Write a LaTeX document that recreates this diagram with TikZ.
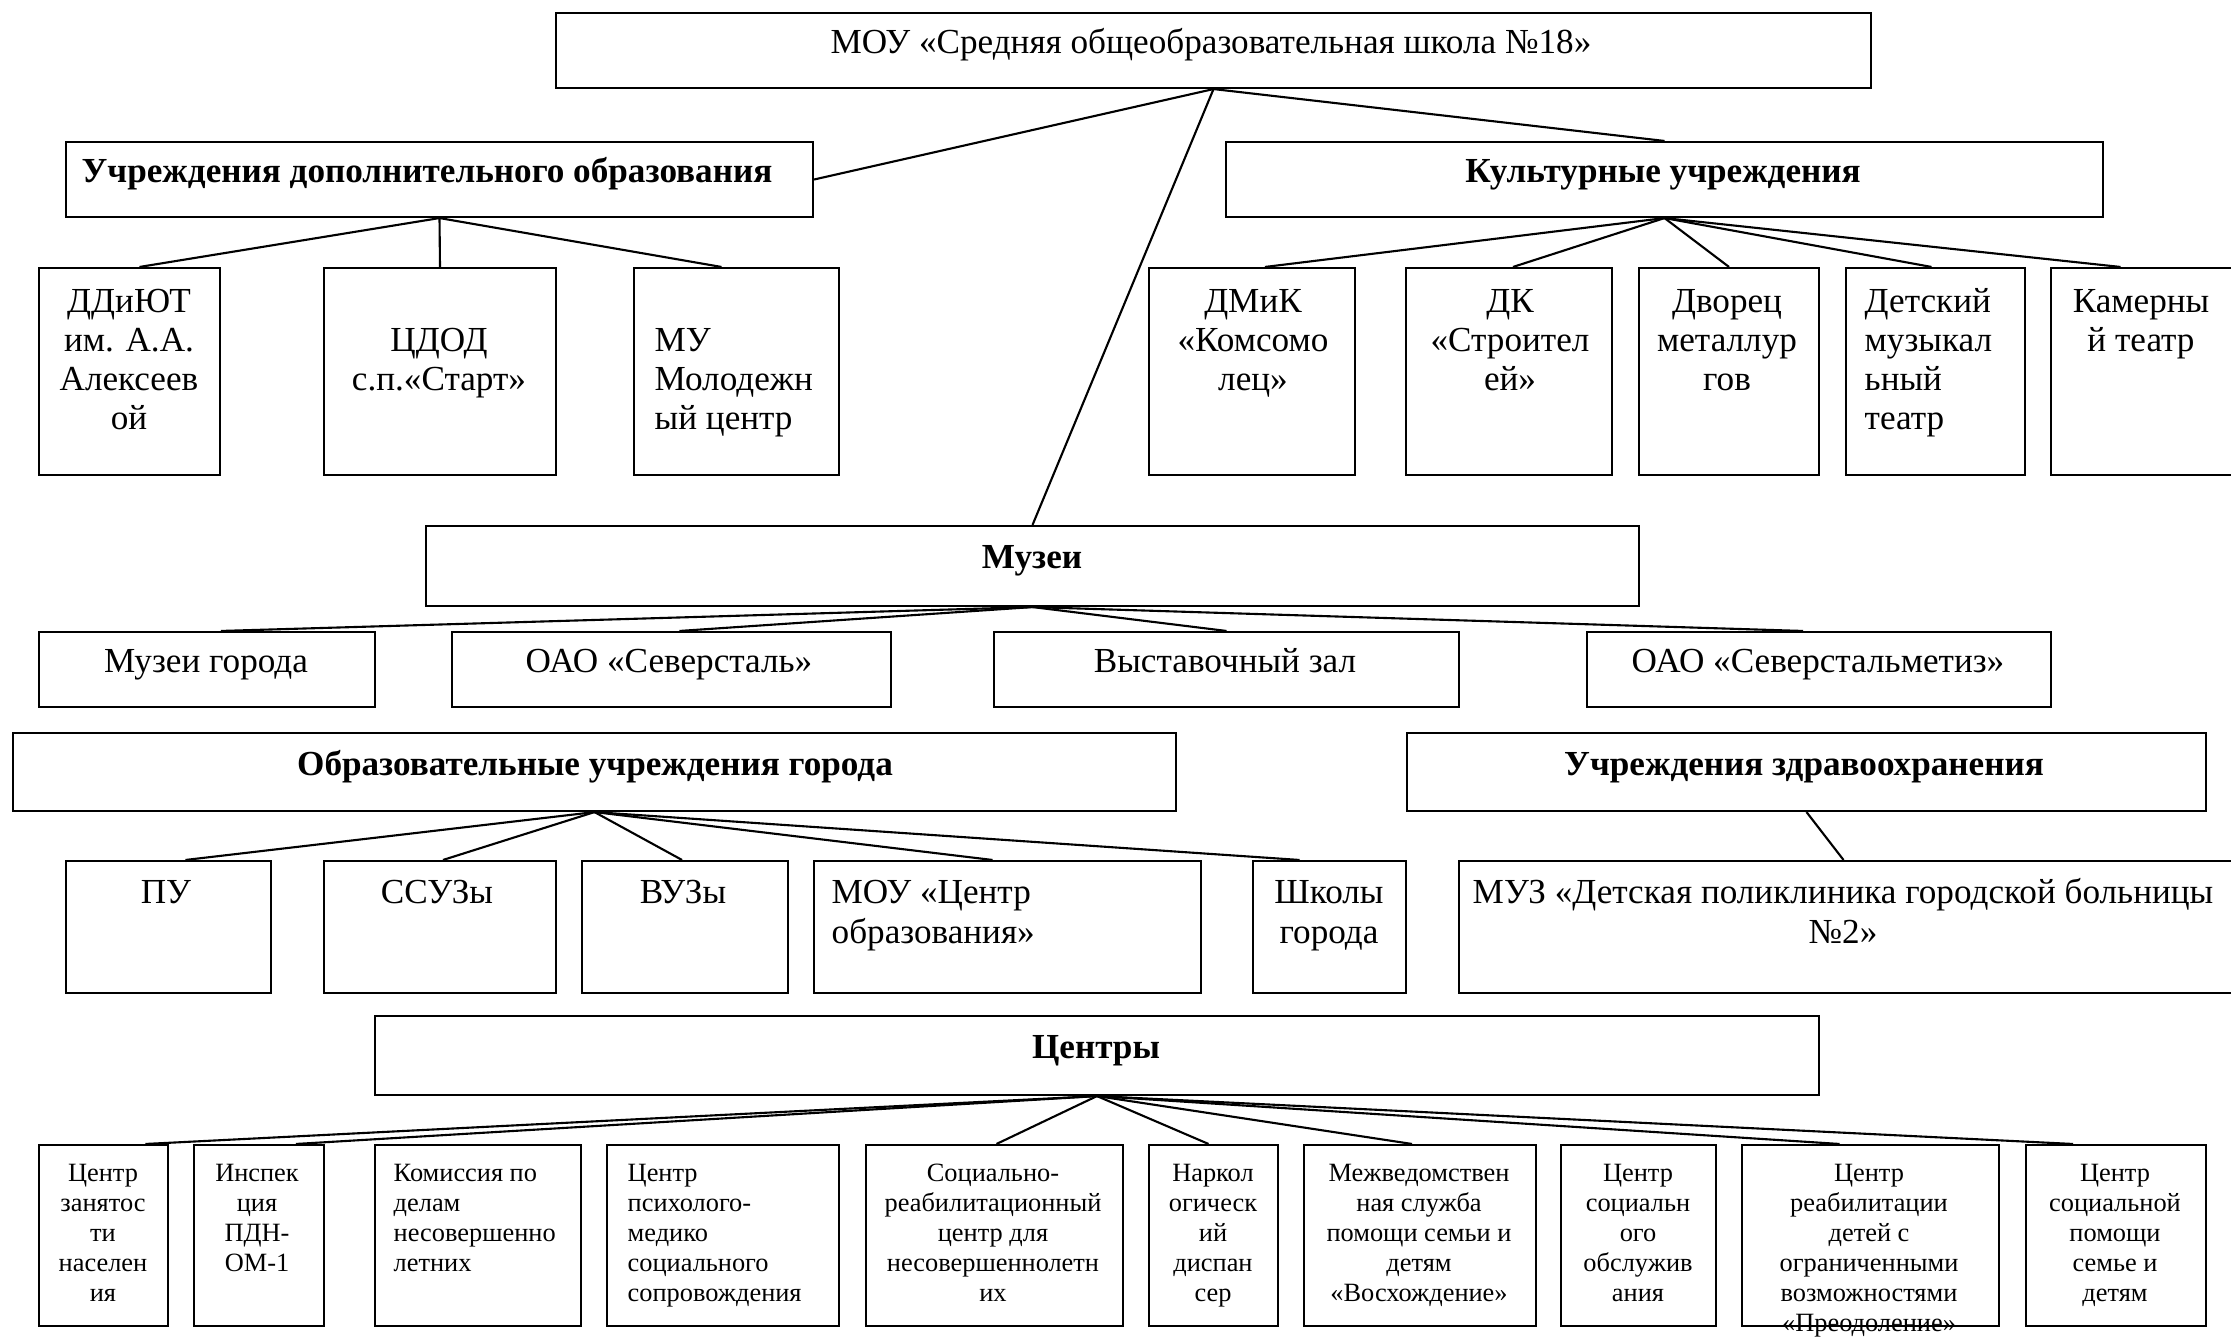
\documentclass[tikz,border=0pt]{standalone}
\usepackage{fontspec}
\setmainfont{Liberation Serif}
\usetikzlibrary{fit,calc}
\newcommand\fmid{\fontsize{10}{11.1}\selectfont}
\newcommand\fmidw{\fontsize{10}{11.4}\selectfont}
\newcommand\fmidb{\fontsize{10}{11.1}\selectfont\bfseries}
\newcommand\fsml{\fontsize{7.5}{8.54}\selectfont}
\newcommand\bx[5]{\node[box, fit={(#2,#3) (#4,#5)}] (#1) {};}
\newcommand\txc[5]{\node[lbl, anchor=base, font=#4] (#1) at (#2,#3) {\begin{tabular}[t]{@{}c@{}}#5\end{tabular}};}
\newcommand\txl[5]{\node[lbl, anchor=base west, font=#4] (#1) at (#2,#3) {\begin{tabular}[t]{@{}l@{}}#5\end{tabular}};}
\begin{document}
\begin{tikzpicture}[x=0.01cm, y=-0.01cm,
  box/.style={draw, line width=0.6pt, inner sep=0pt, rectangle},
  lbl/.style={inner sep=0pt},
  link/.style={line width=0.6pt}]
\useasboundingbox[fill=white] (0,0) rectangle (2231,1339);

% ---------- boxes ----------
\bx{top}{556}{13}{1871}{88}
\bx{udo}{66}{142}{813}{217}
\bx{kult}{1226}{142}{2103}{217}
\bx{ddiut}{39}{268}{220}{475}
\bx{cdod}{324}{268}{556}{475}
\bx{mu}{634}{268}{839}{475}
\bx{dmik}{1149}{268}{1355}{475}
\bx{dk}{1406}{268}{1612}{475}
\bx{dvorec}{1639}{268}{1819}{475}
\bx{detsk}{1846}{268}{2025}{475}
\bx{kamer}{2051}{268}{2240}{475}
\bx{muz}{426}{526}{1639}{606}
\bx{mg}{39}{632}{375}{707}
\bx{sev}{452}{632}{891}{707}
\bx{vyst}{994}{632}{1459}{707}
\bx{metiz}{1587}{632}{2051}{707}
\bx{oug}{13}{733}{1176}{811}
\bx{uz}{1407}{733}{2206}{811}
\bx{pu}{66}{861}{271}{993}
\bx{ssuz}{324}{861}{556}{993}
\bx{vuz}{582}{861}{788}{993}
\bx{cobr}{814}{861}{1201}{993}
\bx{shk}{1253}{861}{1406}{993}
\bx{muzd}{1459}{861}{2240}{993}
\bx{centr}{375}{1016}{1819}{1095}
\bx{b1}{39}{1145}{168}{1326}
\bx{b2}{194}{1145}{324}{1326}
\bx{b3}{375}{1145}{581}{1326}
\bx{b4}{607}{1145}{839}{1326}
\bx{b5}{866}{1145}{1123}{1326}
\bx{b6}{1149}{1145}{1278}{1326}
\bx{b7}{1304}{1145}{1536}{1326}
\bx{b8}{1561}{1145}{1716}{1326}
\bx{b9}{1742}{1145}{1999}{1326}
\bx{b10}{2026}{1145}{2206}{1326}

% ---------- texts ----------
\txc{t-top}{1211}{53}{\fmid}{МОУ «Средняя общеобразовательная школа №18»}
\txc{t-udo}{427}{182}{\fmidb}{Учреждения дополнительного образования}
\txc{t-kult}{1663}{182}{\fmidb}{Культурные учреждения}
\txc{t-ddiut}{129}{312}{\fmid}{ДДиЮТ\\им. А.А.\\Алексеев\\ой}
\txc{t-cdod}{439}{351}{\fmid}{ЦДОД\\с.п.«Старт»}
\txl{t-mu}{654}{351}{\fmid}{МУ\\Молодежн\\ый центр}
\txc{t-dmik}{1253}{312}{\fmid}{ДМиК\\«Комсомо\\лец»}
\txc{t-dk}{1510}{312}{\fmid}{ДК\\«Строител\\ей»}
\txc{t-dvorec}{1727}{312}{\fmid}{Дворец\\металлур\\гов}
\txl{t-detsk}{1864}{312}{\fmid}{Детский\\музыкал\\ьный\\театр}
\txc{t-kamer}{2141}{312}{\fmid}{Камерны\\й театр}
\txc{t-muz}{1032}{568}{\fmidb}{Музеи}
\txc{t-mg}{206}{672}{\fmid}{Музеи города}
\txc{t-sev}{669}{672}{\fmid}{ОАО «Северсталь»}
\txc{t-vyst}{1225}{672}{\fmid}{Выставочный зал}
\txc{t-metiz}{1818}{672}{\fmid}{ОАО «Северстальметиз»}
\txc{t-oug}{595}{775}{\fmidb}{Образовательные учреждения города}
\txc{t-uz}{1804}{775}{\fmidb}{Учреждения здравоохранения}
\txc{t-pu}{166}{903}{\fmidw}{ПУ}
\txc{t-ssuz}{437}{903}{\fmidw}{ССУЗы}
\txc{t-vuz}{683}{903}{\fmidw}{ВУЗы}
\txl{t-cobr}{831}{903}{\fmidw}{МОУ «Центр\\образования»}
\txc{t-shk}{1329}{903}{\fmidw}{Школы\\города}
\txc{t-muzd}{1843}{903}{\fmidw}{МУЗ «Детская поликлиника городской больницы\\№2»}
\txc{t-centr}{1096}{1058}{\fmidb}{Центры}
\txc{t-b1}{103}{1181}{\fsml}{Центр\\занятос\\ти\\населен\\ия}
\txc{t-b2}{257}{1181}{\fsml}{Инспек\\ция\\ПДН-\\ОМ-1}
\txl{t-b3}{393}{1181}{\fsml}{Комиссия по\\делам\\несовершенно\\летних}
\txl{t-b4}{627}{1181}{\fsml}{Центр\\психолого-\\медико\\социального\\сопровождения}
\txc{t-b5}{993}{1181}{\fsml}{Социально-\\реабилитационный\\центр для\\несовершеннолетн\\их}
\txc{t-b6}{1213}{1181}{\fsml}{Наркол\\огическ\\ий\\диспан\\сер}
\txc{t-b7}{1419}{1181}{\fsml}{Межведомствен\\ная служба\\помощи семьи и\\детям\\«Восхождение»}
\txc{t-b8}{1638}{1181}{\fsml}{Центр\\социальн\\ого\\обслужив\\ания}
\txc{t-b9}{1869}{1181}{\fsml}{Центр\\реабилитации\\детей с\\ограниченными\\возможностями\\«Преодоление»}
\txc{t-b10}{2115}{1181}{\fsml}{Центр\\социальной\\помощи\\семье и\\детям}

% ---------- connectors ----------
\draw[link] (top.south) -- (udo.east);
\draw[link] (top.south) -- (kult.north);
\draw[link] (top.south) -- (muz.north);

\draw[link] (udo.south) -- ($(ddiut.north)+(10,0)$);
\draw[link] (udo.south) -- (cdod.north);
\draw[link] (udo.south) -- ($(mu.north)+(-15,0)$);

\draw[link] (kult.south) -- ($(dmik.north)+(13,0)$);
\draw[link] (kult.south) -- ($(dk.north)+(4,0)$);
\draw[link] (kult.south) -- (dvorec.north);
\draw[link] (kult.south) -- ($(detsk.north)+(-4,0)$);
\draw[link] (kult.south) -- ($(kamer.north)+(-25,0)$);

\draw[link] (muz.south) -- ($(mg.north)+(14,0)$);
\draw[link] (muz.south) -- ($(sev.north)+(8,0)$);
\draw[link] (muz.south) -- (vyst.north);
\draw[link] (muz.south) -- ($(metiz.north)+(-16,0)$);

\draw[link] (oug.south) -- ($(pu.north)+(17,0)$);
\draw[link] (oug.south) -- ($(ssuz.north)+(3,0)$);
\draw[link] (oug.south) -- ($(vuz.north)+(-3,0)$);
\draw[link] (oug.south) -- ($(cobr.north)+(-15,0)$);
\draw[link] (oug.south) -- ($(shk.north)+(-30,0)$);

\draw[link] (uz.south) -- ($(muzd.north)+(-6,0)$);

\draw[link] (centr.south) -- ($(b1.north)+(42,0)$);
\draw[link] (centr.south) -- ($(b2.north)+(37,0)$);
\draw[link] (centr.south) -- ($(b5.north)+(2,0)$);
\draw[link] (centr.south) -- ($(b6.north)+(-5,0)$);
\draw[link] (centr.south) -- ($(b7.north)+(-8,0)$);
\draw[link] (centr.south) -- ($(b9.north)+(-31,0)$);
\draw[link] (centr.south) -- ($(b10.north)+(-43,0)$);
\end{tikzpicture}
\end{document}
